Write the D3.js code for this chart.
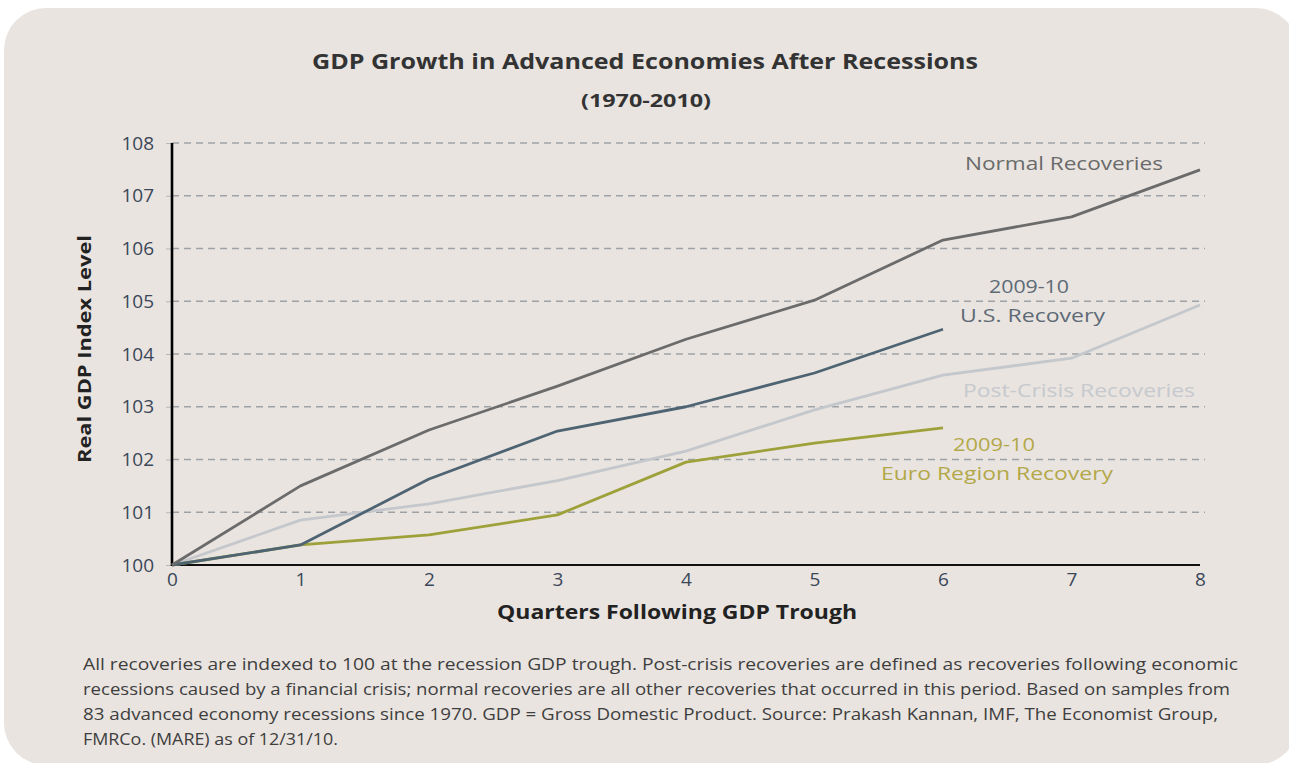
<!DOCTYPE html>
<html><head><meta charset="utf-8">
<script src="https://cdn.jsdelivr.net/npm/d3@7"></script>
<style>body{margin:0;background:#fff;}svg{display:block;}</style>
</head><body>
<svg id="c" width="1289" height="763"></svg>
<script>
const quarters = [0,1,2,3,4,5,6,7,8];
const normalRecoveries = [100,101.5,102.56,103.39,104.28,105.02,106.16,106.6,107.49];
const usRecovery = [100,100.38,101.63,102.54,103.0,103.64,104.47];
const postCrisis = [100,100.85,101.16,101.6,102.16,102.94,103.6,103.92,104.93];
const euroRecovery = [100,100.38,100.57,100.95,101.95,102.31,102.6];
const yTicks = [100,101,102,103,104,105,106,107,108];
const xTicks = [0,1,2,3,4,5,6,7,8];
const footnote = [
 "All recoveries are indexed to 100 at the recession GDP trough. Post-crisis recoveries are defined as recoveries following economic",
 "recessions caused by a financial crisis; normal recoveries are all other recoveries that occurred in this period. Based on samples from",
 "83 advanced economy recessions since 1970. GDP = Gross Domestic Product. Source: Prakash Kannan, IMF, The Economist Group,",
 "FMRCo. (MARE) as of 12/31/10."
];
const footnoteWidths = [1155,1147,1135,255];

const svg = d3.select("#c");
const font = "'Open Sans', 'Noto Sans', sans-serif";
svg.append("rect").attr("x",4).attr("y",8).attr("width",1294).attr("height",757)
  .attr("rx",42).attr("fill","#e9e4e0");

const x = d3.scaleLinear().domain([0,8]).range([172,1200]);
const y = d3.scaleLinear().domain([100,108]).range([565,143]);

// grid
svg.append("g").selectAll("line").data(yTicks.filter(d=>d>100)).join("line")
  .attr("x1",172).attr("x2",1205).attr("y1",d=>y(d)).attr("y2",d=>y(d))
  .attr("stroke","#9ea2a7").attr("stroke-width",1.6).attr("stroke-dasharray","7,5");

// y axis
const ya = svg.append("g").attr("transform","translate(172,0)")
  .call(d3.axisLeft(y).tickValues(yTicks).tickSize(6).tickPadding(12).tickFormat(d3.format("d")));
ya.select(".domain").remove();
ya.selectAll(".tick line").attr("stroke","#b8b8b8");
ya.selectAll("text").attr("font-family",font).attr("font-size",19).attr("fill","#3b4758");

const xa = svg.append("g").attr("transform","translate(0,565)")
  .call(d3.axisBottom(x).tickValues(xTicks).tickSize(0).tickPadding(8).tickFormat(d3.format("d")));
xa.select(".domain").remove();
xa.selectAll("text").attr("font-family",font).attr("font-size",19).attr("fill","#3b4758");

svg.append("line").attr("x1",172).attr("x2",1200).attr("y1",565).attr("y2",565).attr("stroke","#111").attr("stroke-width",1.8);
svg.append("line").attr("x1",172).attr("x2",172).attr("y1",143).attr("y2",566).attr("stroke","#000").attr("stroke-width",2.6);

const line = d3.line().x((d,i)=>x(quarters[i])).y(d=>y(d));
const series = [
  {v:postCrisis,c:"#c4c7cb"},
  {v:euroRecovery,c:"#9ea13a"},
  {v:usRecovery,c:"#4f6473"},
  {v:normalRecoveries,c:"#6b6b6b"}
];
svg.append("g").selectAll("path").data(series).join("path")
  .attr("d",d=>line(d.v)).attr("fill","none").attr("stroke",d=>d.c).attr("stroke-width",2.8)
  .attr("stroke-linejoin","round");

// labels
const labels = [
  {t:"Normal Recoveries",x:965,y:170,w:198,c:"#6a6a6a"},
  {t:"2009-10",x:989,y:293,w:80,c:"#5d6a76"},
  {t:"U.S. Recovery",x:960,y:322,w:145,c:"#5d6a76"},
  {t:"Post-Crisis Recoveries",x:963,y:397,w:232,c:"#c6c9cd"},
  {t:"2009-10",x:953,y:451,w:82,c:"#b3a849"},
  {t:"Euro Region Recovery",x:881,y:480,w:232,c:"#b3a849"}
];
svg.append("g").selectAll("text").data(labels).join("text")
  .attr("x",d=>d.x).attr("y",d=>d.y)
  .attr("textLength",d=>d.w).attr("lengthAdjust","spacingAndGlyphs")
  .attr("font-family",font).attr("font-size",19).attr("fill",d=>d.c).text(d=>d.t);

// titles
svg.append("text").attr("x",312).attr("y",69)
  .attr("textLength",666).attr("lengthAdjust","spacingAndGlyphs")
  .attr("font-family",font).attr("font-weight","bold").attr("font-size",21).attr("fill","#333")
  .text("GDP Growth in Advanced Economies After Recessions");
svg.append("text").attr("x",581).attr("y",107)
  .attr("textLength",130).attr("lengthAdjust","spacingAndGlyphs")
  .attr("font-family",font).attr("font-weight","bold").attr("font-size",18).attr("fill","#333")
  .text("(1970-2010)");
svg.append("text").attr("transform","translate(91,463) rotate(-90)")
  .attr("textLength",228).attr("lengthAdjust","spacingAndGlyphs")
  .attr("font-family",font).attr("font-weight","bold").attr("font-size",18).attr("fill","#222")
  .text("Real GDP Index Level");
svg.append("text").attr("x",497).attr("y",619)
  .attr("textLength",360).attr("lengthAdjust","spacingAndGlyphs")
  .attr("font-family",font).attr("font-weight","bold").attr("font-size",19).attr("fill","#222")
  .text("Quarters Following GDP Trough");

svg.append("g").selectAll("text").data(footnote).join("text")
  .attr("x",83).attr("y",(d,i)=>670+i*25)
  .attr("textLength",(d,i)=>footnoteWidths[i]).attr("lengthAdjust","spacingAndGlyphs")
  .attr("font-family",font).attr("font-size",16).attr("fill","#3e3e3e").text(d=>d);
</script>
</body></html>
